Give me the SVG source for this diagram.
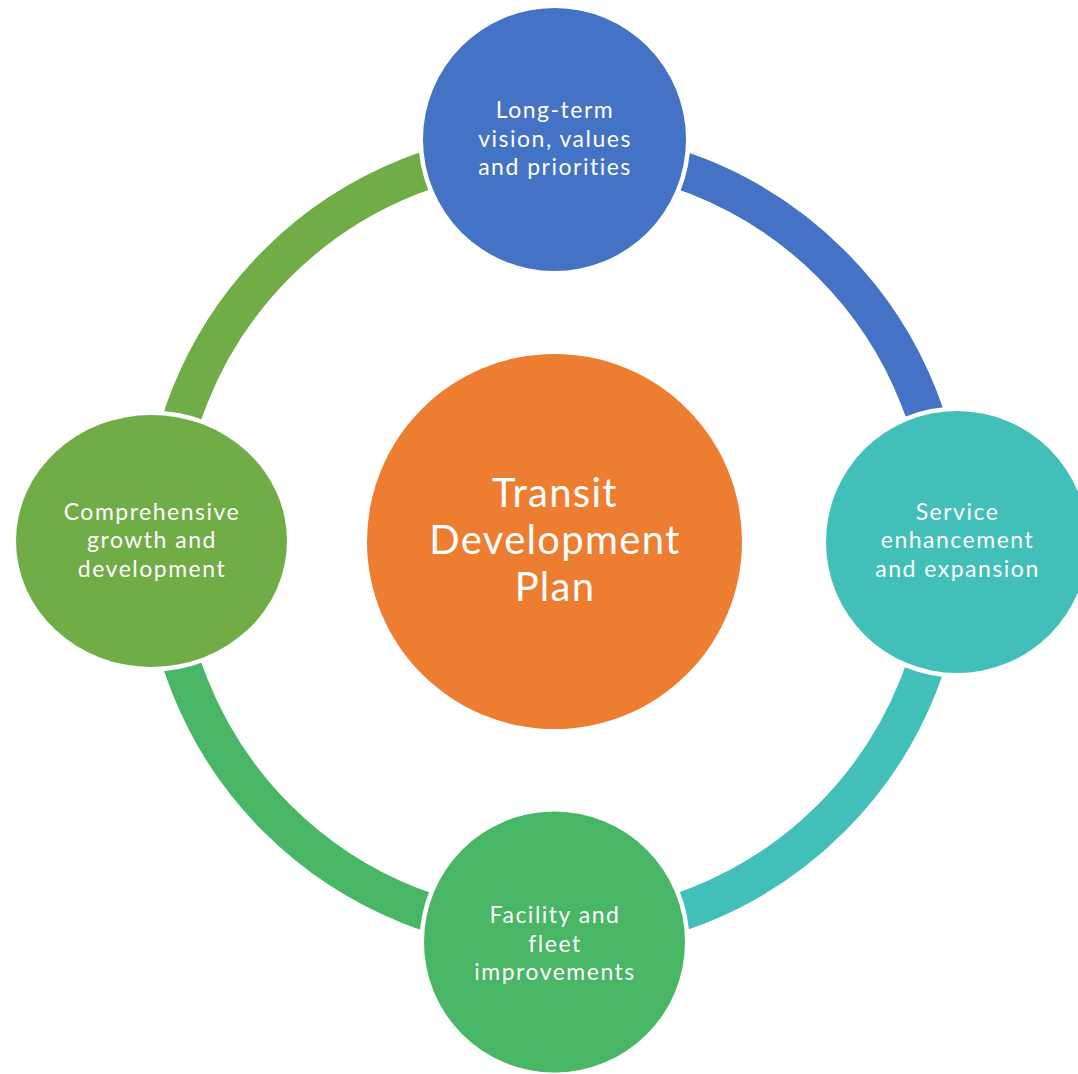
<svg xmlns="http://www.w3.org/2000/svg" width="1078" height="1074" viewBox="0 0 1078 1074">
<style>
.arc{fill:none;stroke-width:38}
.halo{fill:#FFFFFF}
.lbl{font-family:Lato,"Open Sans","DejaVu Sans",sans-serif;fill:#FFFFFF;text-anchor:middle;font-size:23px;letter-spacing:1.5px}
.big{font-size:40px;letter-spacing:1.3px}
</style>
<rect width="1078" height="1074" fill="#FFFFFF"/>
<g id="connectors">
<path class="arc" stroke="#4472C4" d="M 554 149 A 392 392 0 0 1 946 541"/>
<path class="arc" stroke="#43BFB9" d="M 946 541 A 392 392 0 0 1 554 933"/>
<path class="arc" stroke="#48B664" d="M 554 933 A 392 392 0 0 1 162 541"/>
<path class="arc" stroke="#70AD47" d="M 162 541 A 392 392 0 0 1 554 149"/>
</g>
<g id="center">
<circle cx="554.5" cy="541.5" r="187.5" fill="#ED7D31"/>
<text class="lbl big" x="555" y="507">Transit</text>
<text class="lbl big" x="555" y="554">Development</text>
<text class="lbl big" x="555" y="601">Plan</text>
</g>
<g id="top">
<circle class="halo" cx="554.5" cy="139.5" r="136"/>
<circle cx="554.5" cy="139.5" r="131.5" fill="#4472C4"/>
<text class="lbl" x="555" y="118">Long-term</text>
<text class="lbl" x="555" y="147">vision, values</text>
<text class="lbl" x="555" y="175">and priorities</text>
</g>
<g id="right">
<circle class="halo" cx="957" cy="542" r="135.5"/>
<circle cx="957" cy="542" r="131" fill="#43BFB9"/>
<text class="lbl" x="957.5" y="520">Service</text>
<text class="lbl" x="957.5" y="548">enhancement</text>
<text class="lbl" x="957.5" y="577">and expansion</text>
</g>
<g id="bottom">
<circle class="halo" cx="554.5" cy="942" r="135"/>
<circle cx="554.5" cy="942" r="130.5" fill="#48B664"/>
<text class="lbl" x="555" y="923">Facility and</text>
<text class="lbl" x="555" y="952">fleet</text>
<text class="lbl" x="555" y="980">improvements</text>
</g>
<g id="left">
<ellipse class="halo" cx="151.5" cy="541" rx="140" ry="130.5"/>
<ellipse cx="151.5" cy="541" rx="135.5" ry="126" fill="#70AD47"/>
<text class="lbl" x="152" y="520">Comprehensive</text>
<text class="lbl" x="152" y="548">growth and</text>
<text class="lbl" x="152" y="577">development</text>
</g>
</svg>
